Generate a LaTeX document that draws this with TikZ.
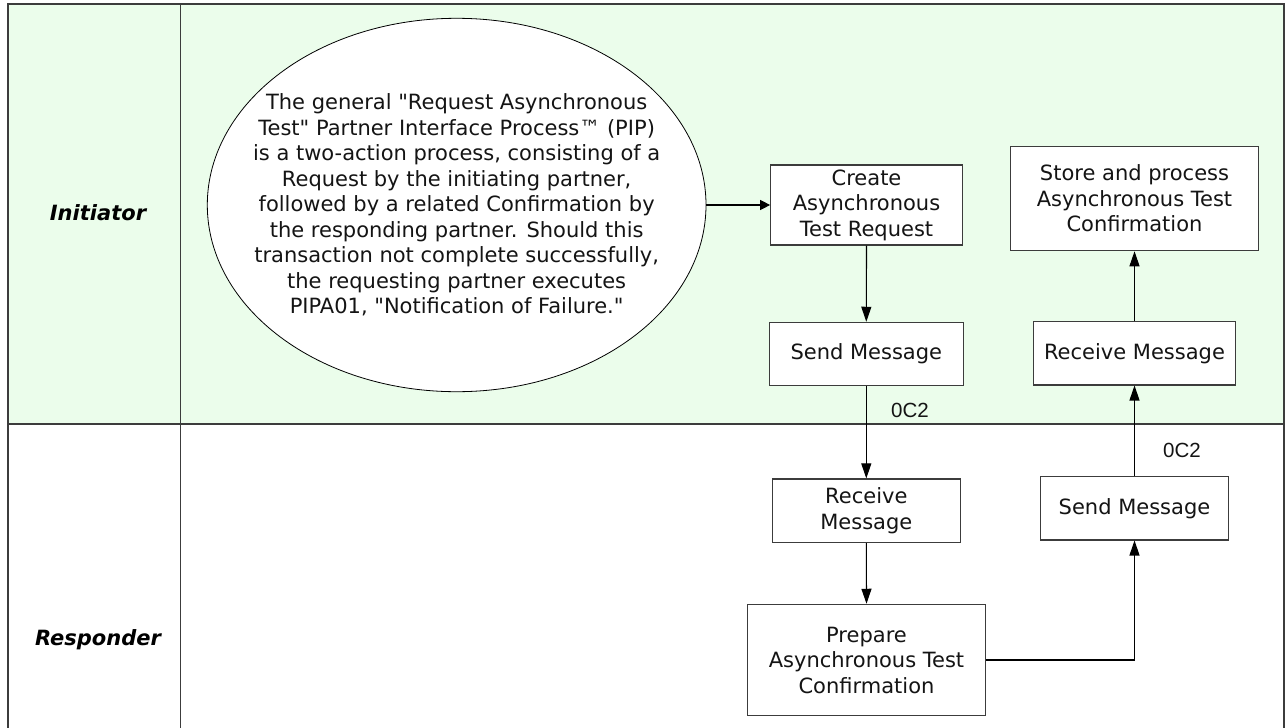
\documentclass[tikz,border=0pt]{standalone}
\usepackage{fontspec}
\setmainfont{DejaVu Sans}
\newfontfamily\arialfont{Liberation Sans}
\usetikzlibrary{arrows.meta,shapes.geometric}
\definecolor{lanegreen}{RGB}{235,253,235}
\definecolor{framegray}{RGB}{60,60,60}
\definecolor{inkgray}{RGB}{20,20,20}
\newcommand{\sdq}{\XeTeXglyph\the\XeTeXcharglyph"22\relax}
\tikzset{
  boxnode/.style={draw=framegray, line width=1.1pt, fill=white, inner sep=0pt, align=center,
    text=inkgray, font=\fontsize{21}{25.5}\selectfont},
  lanelabel/.style={inner sep=0pt, font=\fontsize{21}{25.5}\selectfont\bfseries\itshape},
  msglabel/.style={inner sep=0pt, font=\arialfont\fontsize{20.5}{24}\selectfont, text=inkgray},
  vflow/.style={line width=1.1pt, draw=black, -{Triangle[length=15pt,width=10pt]}},
  hflow/.style={line width=1.1pt, draw=black, -{Triangle[length=10pt,width=10pt]}},
  frameline/.style={line width=1.2pt, draw=framegray}
}
\begin{document}
\begin{tikzpicture}[x=1pt,y=-1pt]
\useasboundingbox (0,0) rectangle (1285,728);
% lanes
\fill[lanegreen] (8,4) rectangle (1284,424);
\draw[frameline] (8,740) -- (8,4) -- (1284,4) -- (1284,740);
\draw[frameline] (8,424) -- (1284,424);
\draw[frameline] (180.5,4) -- (180.5,740);
\node[lanelabel] (lini) at (98,213) {Initiator};
\node[lanelabel] (lres) at (98,640) {Responder};
% ellipse note
\node[draw=black, line width=0.8pt, fill=white, ellipse, minimum width=498.7pt, minimum height=373.4pt,
  inner sep=0pt] (note) at (456.65,205) {};
\node[inner sep=0pt, align=center, text=inkgray, font=\fontsize{21}{25.5}\selectfont] (notetext) at (note.center)
  {The general \sdq Request Asynchronous\\Test\sdq{} Partner Interface Process™ (PIP)\\is a two-action process, consisting of a\\Request by the initiating partner,\\followed by a related Confirmation by\\the responding partner. Should this\\transaction not complete successfully,\\the requesting partner executes\\PIPA01, \sdq Notification of Failure.\sdq};
% boxes
\node[boxnode, minimum width=191.6pt, minimum height=80pt] (create) at (866.5,205) {Create\\Asynchronous\\Test Request};
\node[boxnode, minimum width=194pt, minimum height=63pt] (sendA) at (866.3,353.8) {Send Message};
\node[boxnode, minimum width=247.6pt, minimum height=104.7pt] (store) at (1134.5,198.4) {Store and process\\Asynchronous Test\\Confirmation};
\node[boxnode, minimum width=202.4pt, minimum height=63.3pt] (recvA) at (1134.5,353.3) {Receive Message};
\node[boxnode, minimum width=188pt, minimum height=63.7pt] (recvB) at (866.3,510.8) {Receive\\Message};
\node[boxnode, minimum width=238pt, minimum height=111.4pt] (prep) at (866.5,660) {Prepare\\Asynchronous Test\\Confirmation};
\node[boxnode, minimum width=188.7pt, minimum height=63.3pt] (sendB) at (1134.5,508.3) {Send Message};
% labels
\node[msglabel] (lblA) at (910,410) {0C2};
\node[msglabel] (lblB) at (1182,450) {0C2};
% connectors
\draw[hflow] (note.east) -- (create.west);
\draw[vflow] (create.south) -- (sendA.north);
\draw[vflow] (sendA.south) -- (recvB.north);
\draw[vflow] (recvB.south) -- (prep.north);
\draw[vflow] (prep.east) -| (sendB.south);
\draw[vflow] (sendB.north) -- (recvA.south);
\draw[vflow] (recvA.north) -- (store.south);
\end{tikzpicture}
\end{document}
